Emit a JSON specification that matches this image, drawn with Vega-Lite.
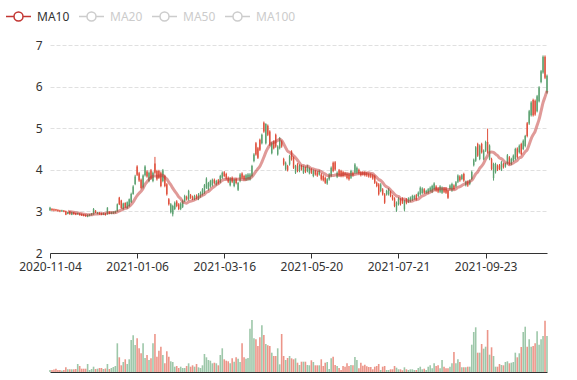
{
"$schema": "https://vega.github.io/schema/vega-lite/v6.json",
"padding": {"left": 5, "top": 3, "right": 30, "bottom": 8},
"config": {"view": {"stroke": null}, "font": "Noto Sans", "concat": {"spacing": 28}},
"data": {"values": [
{"d":"2020-11-04","o":3.03,"c":3.09,"h":3.11,"l":3.01,"v":200000},
{"d":"2020-11-05","o":3.06,"c":3.03,"h":3.08,"l":3.01,"v":200000},
{"d":"2020-11-06","o":3.05,"c":3.02,"h":3.07,"l":3.00,"v":250000},
{"d":"2020-11-09","o":3.05,"c":3.02,"h":3.06,"l":3.00,"v":330000},
{"d":"2020-11-10","o":3.04,"c":3.01,"h":3.05,"l":2.99,"v":200000},
{"d":"2020-11-11","o":3.03,"c":3.00,"h":3.04,"l":2.98,"v":200000},
{"d":"2020-11-12","o":3.00,"c":3.03,"h":3.04,"l":2.99,"v":150000},
{"d":"2020-11-13","o":3.02,"c":2.99,"h":3.03,"l":2.98,"v":200000},
{"d":"2020-11-16","o":3.01,"c":2.92,"h":3.02,"l":2.91,"v":470000},
{"d":"2020-11-17","o":2.94,"c":2.98,"h":2.99,"l":2.93,"v":270000},
{"d":"2020-11-18","o":3.00,"c":2.93,"h":3.01,"l":2.92,"v":270000},
{"d":"2020-11-19","o":2.92,"c":2.98,"h":2.99,"l":2.91,"v":270000},
{"d":"2020-11-20","o":2.98,"c":2.93,"h":2.99,"l":2.92,"v":270000},
{"d":"2020-11-23","o":2.96,"c":2.92,"h":2.97,"l":2.91,"v":300000},
{"d":"2020-11-24","o":2.93,"c":2.96,"h":2.97,"l":2.92,"v":800000},
{"d":"2020-11-25","o":2.95,"c":2.91,"h":2.96,"l":2.90,"v":600000},
{"d":"2020-11-26","o":2.94,"c":2.90,"h":2.95,"l":2.89,"v":330000},
{"d":"2020-11-27","o":2.93,"c":2.89,"h":2.94,"l":2.88,"v":330000},
{"d":"2020-11-30","o":2.92,"c":2.88,"h":2.93,"l":2.87,"v":330000},
{"d":"2020-12-01","o":2.87,"c":2.92,"h":2.93,"l":2.86,"v":800000},
{"d":"2020-12-02","o":2.89,"c":2.93,"h":2.94,"l":2.88,"v":200000},
{"d":"2020-12-03","o":2.91,"c":2.95,"h":2.96,"l":2.90,"v":300000},
{"d":"2020-12-04","o":2.93,"c":3.06,"h":3.08,"l":2.92,"v":530000},
{"d":"2020-12-07","o":3.02,"c":2.97,"h":3.03,"l":2.96,"v":300000},
{"d":"2020-12-08","o":2.94,"c":2.98,"h":2.99,"l":2.93,"v":330000},
{"d":"2020-12-09","o":2.97,"c":2.93,"h":2.98,"l":2.92,"v":400000},
{"d":"2020-12-10","o":2.96,"c":2.92,"h":2.97,"l":2.91,"v":400000},
{"d":"2020-12-11","o":2.92,"c":2.96,"h":2.97,"l":2.91,"v":300000},
{"d":"2020-12-14","o":2.95,"c":2.91,"h":2.96,"l":2.90,"v":350000},
{"d":"2020-12-15","o":2.93,"c":3.09,"h":3.10,"l":2.92,"v":800000},
{"d":"2020-12-16","o":2.99,"c":2.94,"h":3.00,"l":2.93,"v":300000},
{"d":"2020-12-17","o":2.94,"c":2.98,"h":2.99,"l":2.93,"v":400000},
{"d":"2020-12-18","o":2.95,"c":2.99,"h":3.00,"l":2.94,"v":500000},
{"d":"2020-12-21","o":2.96,"c":3.01,"h":3.02,"l":2.95,"v":600000},
{"d":"2020-12-22","o":3.00,"c":3.17,"h":3.19,"l":2.99,"v":2870000},
{"d":"2020-12-23","o":3.33,"c":3.17,"h":3.35,"l":3.15,"v":1470000},
{"d":"2020-12-24","o":3.26,"c":3.08,"h":3.28,"l":3.06,"v":670000},
{"d":"2020-12-25","o":3.06,"c":3.19,"h":3.21,"l":3.04,"v":1000000},
{"d":"2020-12-28","o":3.20,"c":3.10,"h":3.22,"l":3.08,"v":1270000},
{"d":"2020-12-29","o":3.08,"c":3.22,"h":3.24,"l":3.06,"v":800000},
{"d":"2020-12-30","o":3.13,"c":3.29,"h":3.31,"l":3.11,"v":1270000},
{"d":"2020-12-31","o":3.22,"c":3.42,"h":3.45,"l":3.20,"v":3200000},
{"d":"2021-01-04","o":3.42,"c":3.60,"h":3.63,"l":3.40,"v":3670000},
{"d":"2021-01-05","o":3.66,"c":3.84,"h":3.88,"l":3.63,"v":2700000},
{"d":"2021-01-06","o":4.08,"c":3.88,"h":4.11,"l":3.85,"v":3370000},
{"d":"2021-01-07","o":3.92,"c":3.74,"h":3.95,"l":3.71,"v":2370000},
{"d":"2021-01-08","o":3.76,"c":3.56,"h":3.79,"l":3.53,"v":1870000},
{"d":"2021-01-11","o":3.58,"c":3.86,"h":3.89,"l":3.55,"v":2870000},
{"d":"2021-01-12","o":3.87,"c":4.08,"h":4.11,"l":3.84,"v":1400000},
{"d":"2021-01-13","o":3.96,"c":3.84,"h":3.99,"l":3.81,"v":1700000},
{"d":"2021-01-14","o":3.73,"c":3.93,"h":3.96,"l":3.70,"v":1200000},
{"d":"2021-01-15","o":3.99,"c":3.79,"h":4.02,"l":3.76,"v":1370000},
{"d":"2021-01-18","o":3.73,"c":3.93,"h":3.96,"l":3.70,"v":2870000},
{"d":"2021-01-19","o":4.15,"c":3.93,"h":4.31,"l":3.90,"v":3800000},
{"d":"2021-01-20","o":3.97,"c":3.77,"h":4.00,"l":3.74,"v":1530000},
{"d":"2021-01-21","o":3.97,"c":3.81,"h":4.00,"l":3.78,"v":2130000},
{"d":"2021-01-22","o":3.93,"c":3.61,"h":3.96,"l":3.58,"v":2530000},
{"d":"2021-01-25","o":3.73,"c":3.99,"h":4.02,"l":3.70,"v":1700000},
{"d":"2021-01-26","o":3.85,"c":3.61,"h":3.88,"l":3.58,"v":870000},
{"d":"2021-01-27","o":3.65,"c":3.41,"h":3.68,"l":3.38,"v":2070000},
{"d":"2021-01-28","o":3.29,"c":3.17,"h":3.32,"l":3.14,"v":1530000},
{"d":"2021-01-29","o":2.98,"c":3.17,"h":3.20,"l":2.95,"v":1070000},
{"d":"2021-02-01","o":2.93,"c":3.13,"h":3.16,"l":2.88,"v":1000000},
{"d":"2021-02-02","o":3.06,"c":3.21,"h":3.24,"l":3.03,"v":530000},
{"d":"2021-02-03","o":3.24,"c":3.13,"h":3.27,"l":3.10,"v":600000},
{"d":"2021-02-04","o":3.17,"c":3.06,"h":3.20,"l":3.03,"v":400000},
{"d":"2021-02-05","o":3.06,"c":3.19,"h":3.22,"l":3.03,"v":530000},
{"d":"2021-02-08","o":3.11,"c":3.25,"h":3.28,"l":3.08,"v":400000},
{"d":"2021-02-09","o":3.25,"c":3.37,"h":3.40,"l":3.22,"v":400000},
{"d":"2021-02-10","o":3.35,"c":3.29,"h":3.38,"l":3.26,"v":600000},
{"d":"2021-02-18","o":3.29,"c":3.49,"h":3.52,"l":3.26,"v":870000},
{"d":"2021-02-19","o":3.39,"c":3.33,"h":3.42,"l":3.30,"v":530000},
{"d":"2021-02-22","o":3.35,"c":3.30,"h":3.38,"l":3.27,"v":670000},
{"d":"2021-02-23","o":3.30,"c":3.37,"h":3.40,"l":3.27,"v":530000},
{"d":"2021-02-24","o":3.38,"c":3.32,"h":3.41,"l":3.29,"v":800000},
{"d":"2021-02-25","o":3.30,"c":3.41,"h":3.44,"l":3.27,"v":470000},
{"d":"2021-02-26","o":3.36,"c":3.45,"h":3.48,"l":3.33,"v":400000},
{"d":"2021-03-01","o":3.41,"c":3.53,"h":3.56,"l":3.38,"v":670000},
{"d":"2021-03-02","o":3.45,"c":3.63,"h":3.66,"l":3.42,"v":1800000},
{"d":"2021-03-03","o":3.57,"c":3.79,"h":3.82,"l":3.54,"v":1470000},
{"d":"2021-03-04","o":3.53,"c":3.68,"h":3.71,"l":3.50,"v":1200000},
{"d":"2021-03-05","o":3.60,"c":3.73,"h":3.76,"l":3.57,"v":1130000},
{"d":"2021-03-08","o":3.63,"c":3.76,"h":3.79,"l":3.60,"v":870000},
{"d":"2021-03-09","o":3.76,"c":3.68,"h":3.79,"l":3.65,"v":930000},
{"d":"2021-03-10","o":3.65,"c":3.73,"h":3.76,"l":3.62,"v":870000},
{"d":"2021-03-11","o":3.75,"c":3.68,"h":3.78,"l":3.65,"v":670000},
{"d":"2021-03-12","o":3.71,"c":3.85,"h":3.88,"l":3.68,"v":1700000},
{"d":"2021-03-15","o":3.81,"c":3.93,"h":3.96,"l":3.78,"v":2370000},
{"d":"2021-03-16","o":3.94,"c":3.85,"h":3.97,"l":3.82,"v":1270000},
{"d":"2021-03-17","o":3.90,"c":3.79,"h":3.93,"l":3.76,"v":1130000},
{"d":"2021-03-18","o":3.81,"c":3.71,"h":3.84,"l":3.68,"v":1070000},
{"d":"2021-03-19","o":3.63,"c":3.79,"h":3.82,"l":3.60,"v":870000},
{"d":"2021-03-22","o":3.81,"c":3.71,"h":3.84,"l":3.68,"v":1370000},
{"d":"2021-03-23","o":3.61,"c":3.76,"h":3.79,"l":3.58,"v":1030000},
{"d":"2021-03-24","o":3.78,"c":3.68,"h":3.81,"l":3.65,"v":1470000},
{"d":"2021-03-25","o":3.52,"c":3.68,"h":3.71,"l":3.49,"v":1330000},
{"d":"2021-03-26","o":3.73,"c":3.89,"h":3.92,"l":3.70,"v":1000000},
{"d":"2021-03-29","o":3.91,"c":3.81,"h":3.94,"l":3.78,"v":2870000},
{"d":"2021-03-30","o":3.85,"c":3.77,"h":3.88,"l":3.74,"v":1470000},
{"d":"2021-03-31","o":3.76,"c":3.87,"h":3.90,"l":3.73,"v":1330000},
{"d":"2021-04-01","o":3.77,"c":3.89,"h":3.92,"l":3.74,"v":1400000},
{"d":"2021-04-02","o":3.77,"c":3.89,"h":3.92,"l":3.74,"v":4330000},
{"d":"2021-04-05","o":3.85,"c":4.09,"h":4.12,"l":3.82,"v":5200000},
{"d":"2021-04-06","o":4.21,"c":4.37,"h":4.40,"l":4.18,"v":3370000},
{"d":"2021-04-07","o":4.64,"c":4.37,"h":4.67,"l":4.34,"v":3270000},
{"d":"2021-04-08","o":4.52,"c":4.29,"h":4.55,"l":4.26,"v":2600000},
{"d":"2021-04-09","o":4.72,"c":4.48,"h":4.75,"l":4.45,"v":3470000},
{"d":"2021-04-12","o":4.64,"c":4.84,"h":4.87,"l":4.61,"v":4670000},
{"d":"2021-04-13","o":5.13,"c":4.92,"h":5.16,"l":4.89,"v":3700000},
{"d":"2021-04-14","o":4.64,"c":5.10,"h":5.12,"l":4.61,"v":2800000},
{"d":"2021-04-15","o":5.06,"c":4.84,"h":5.09,"l":4.81,"v":2670000},
{"d":"2021-04-16","o":4.92,"c":4.60,"h":4.95,"l":4.57,"v":2600000},
{"d":"2021-04-19","o":4.40,"c":4.64,"h":4.67,"l":4.37,"v":1930000},
{"d":"2021-04-20","o":4.68,"c":4.52,"h":4.71,"l":4.49,"v":1600000},
{"d":"2021-04-21","o":4.84,"c":4.56,"h":4.87,"l":4.53,"v":1600000},
{"d":"2021-04-22","o":4.37,"c":4.56,"h":4.59,"l":4.34,"v":2370000},
{"d":"2021-04-23","o":4.52,"c":4.76,"h":4.79,"l":4.49,"v":770000},
{"d":"2021-04-26","o":4.68,"c":4.56,"h":4.71,"l":4.53,"v":3800000},
{"d":"2021-04-27","o":4.26,"c":4.13,"h":4.29,"l":4.10,"v":1600000},
{"d":"2021-04-28","o":4.01,"c":4.17,"h":4.20,"l":3.98,"v":1200000},
{"d":"2021-04-29","o":4.09,"c":3.99,"h":4.12,"l":3.96,"v":1400000},
{"d":"2021-04-30","o":4.13,"c":4.33,"h":4.36,"l":4.10,"v":1600000},
{"d":"2021-05-06","o":4.44,"c":4.25,"h":4.47,"l":4.22,"v":1370000},
{"d":"2021-05-07","o":4.29,"c":4.05,"h":4.32,"l":4.02,"v":1270000},
{"d":"2021-05-10","o":3.93,"c":4.09,"h":4.12,"l":3.90,"v":1370000},
{"d":"2021-05-11","o":4.13,"c":3.97,"h":4.16,"l":3.94,"v":930000},
{"d":"2021-05-12","o":3.97,"c":4.10,"h":4.13,"l":3.94,"v":700000},
{"d":"2021-05-13","o":4.09,"c":4.01,"h":4.12,"l":3.98,"v":1030000},
{"d":"2021-05-14","o":3.93,"c":4.07,"h":4.10,"l":3.90,"v":1030000},
{"d":"2021-05-17","o":4.05,"c":3.95,"h":4.08,"l":3.92,"v":1030000},
{"d":"2021-05-18","o":3.97,"c":4.09,"h":4.12,"l":3.94,"v":700000},
{"d":"2021-05-19","o":3.92,"c":4.03,"h":4.06,"l":3.89,"v":670000},
{"d":"2021-05-20","o":4.01,"c":3.93,"h":4.04,"l":3.90,"v":1170000},
{"d":"2021-05-21","o":3.85,"c":3.98,"h":4.01,"l":3.82,"v":1000000},
{"d":"2021-05-24","o":3.97,"c":3.89,"h":4.00,"l":3.86,"v":670000},
{"d":"2021-05-25","o":3.94,"c":3.86,"h":3.97,"l":3.83,"v":670000},
{"d":"2021-05-26","o":3.89,"c":3.97,"h":4.00,"l":3.86,"v":670000},
{"d":"2021-05-27","o":3.89,"c":3.77,"h":3.92,"l":3.74,"v":1270000},
{"d":"2021-05-28","o":3.85,"c":3.75,"h":3.88,"l":3.72,"v":600000},
{"d":"2021-05-31","o":3.81,"c":3.69,"h":3.84,"l":3.66,"v":930000},
{"d":"2021-06-01","o":3.67,"c":3.77,"h":3.80,"l":3.64,"v":1000000},
{"d":"2021-06-02","o":3.77,"c":3.89,"h":3.92,"l":3.74,"v":300000},
{"d":"2021-06-03","o":3.85,"c":4.05,"h":4.08,"l":3.82,"v":1370000},
{"d":"2021-06-04","o":4.17,"c":3.97,"h":4.20,"l":3.94,"v":1530000},
{"d":"2021-06-07","o":4.18,"c":4.01,"h":4.21,"l":3.98,"v":700000},
{"d":"2021-06-08","o":3.83,"c":3.93,"h":3.96,"l":3.80,"v":600000},
{"d":"2021-06-09","o":3.99,"c":3.87,"h":4.02,"l":3.84,"v":400000},
{"d":"2021-06-10","o":3.97,"c":3.85,"h":4.00,"l":3.82,"v":200000},
{"d":"2021-06-11","o":3.95,"c":3.85,"h":3.98,"l":3.82,"v":600000},
{"d":"2021-06-14","o":3.92,"c":3.86,"h":3.95,"l":3.83,"v":530000},
{"d":"2021-06-15","o":3.90,"c":3.80,"h":3.93,"l":3.77,"v":870000},
{"d":"2021-06-16","o":3.89,"c":3.77,"h":3.92,"l":3.74,"v":600000},
{"d":"2021-06-17","o":3.81,"c":3.97,"h":4.00,"l":3.78,"v":700000},
{"d":"2021-06-18","o":3.93,"c":3.87,"h":3.96,"l":3.84,"v":670000},
{"d":"2021-06-21","o":3.93,"c":4.13,"h":4.16,"l":3.90,"v":1500000},
{"d":"2021-06-22","o":3.93,"c":4.05,"h":4.08,"l":3.90,"v":1200000},
{"d":"2021-06-23","o":4.00,"c":3.92,"h":4.03,"l":3.89,"v":370000},
{"d":"2021-06-24","o":3.94,"c":3.87,"h":3.97,"l":3.84,"v":930000},
{"d":"2021-06-25","o":3.94,"c":3.89,"h":3.97,"l":3.86,"v":630000},
{"d":"2021-06-28","o":3.94,"c":3.87,"h":3.97,"l":3.84,"v":730000},
{"d":"2021-06-29","o":3.92,"c":3.86,"h":3.95,"l":3.83,"v":570000},
{"d":"2021-06-30","o":3.90,"c":3.84,"h":3.93,"l":3.81,"v":500000},
{"d":"2021-07-01","o":3.89,"c":3.83,"h":3.92,"l":3.80,"v":500000},
{"d":"2021-07-02","o":3.87,"c":3.79,"h":3.90,"l":3.76,"v":270000},
{"d":"2021-07-05","o":3.85,"c":3.69,"h":3.88,"l":3.66,"v":530000},
{"d":"2021-07-06","o":3.69,"c":3.61,"h":3.72,"l":3.58,"v":600000},
{"d":"2021-07-07","o":3.65,"c":3.41,"h":3.68,"l":3.38,"v":800000},
{"d":"2021-07-08","o":3.49,"c":3.65,"h":3.68,"l":3.46,"v":200000},
{"d":"2021-07-09","o":3.53,"c":3.41,"h":3.56,"l":3.38,"v":530000},
{"d":"2021-07-12","o":3.41,"c":3.21,"h":3.44,"l":3.18,"v":600000},
{"d":"2021-07-13","o":3.41,"c":3.49,"h":3.52,"l":3.38,"v":200000},
{"d":"2021-07-14","o":3.41,"c":3.53,"h":3.56,"l":3.38,"v":200000},
{"d":"2021-07-15","o":3.47,"c":3.37,"h":3.50,"l":3.34,"v":270000},
{"d":"2021-07-16","o":3.37,"c":3.29,"h":3.40,"l":3.26,"v":270000},
{"d":"2021-07-19","o":3.31,"c":3.13,"h":3.34,"l":3.10,"v":600000},
{"d":"2021-07-20","o":3.02,"c":3.21,"h":3.24,"l":2.99,"v":430000},
{"d":"2021-07-21","o":3.17,"c":3.31,"h":3.34,"l":3.14,"v":270000},
{"d":"2021-07-22","o":3.29,"c":3.17,"h":3.32,"l":3.14,"v":270000},
{"d":"2021-07-23","o":3.31,"c":3.21,"h":3.34,"l":3.18,"v":170000},
{"d":"2021-07-26","o":3.05,"c":3.25,"h":3.28,"l":3.00,"v":470000},
{"d":"2021-07-27","o":3.29,"c":3.20,"h":3.32,"l":3.17,"v":270000},
{"d":"2021-07-28","o":3.23,"c":3.31,"h":3.34,"l":3.20,"v":200000},
{"d":"2021-07-29","o":3.25,"c":3.33,"h":3.36,"l":3.22,"v":270000},
{"d":"2021-07-30","o":3.28,"c":3.37,"h":3.40,"l":3.25,"v":270000},
{"d":"2021-08-02","o":3.31,"c":3.37,"h":3.40,"l":3.28,"v":200000},
{"d":"2021-08-03","o":3.39,"c":3.29,"h":3.42,"l":3.26,"v":200000},
{"d":"2021-08-04","o":3.37,"c":3.45,"h":3.48,"l":3.34,"v":400000},
{"d":"2021-08-05","o":3.41,"c":3.57,"h":3.60,"l":3.38,"v":530000},
{"d":"2021-08-06","o":3.44,"c":3.55,"h":3.58,"l":3.41,"v":270000},
{"d":"2021-08-09","o":3.53,"c":3.45,"h":3.56,"l":3.42,"v":330000},
{"d":"2021-08-10","o":3.45,"c":3.49,"h":3.52,"l":3.42,"v":200000},
{"d":"2021-08-11","o":3.45,"c":3.53,"h":3.56,"l":3.42,"v":530000},
{"d":"2021-08-12","o":3.49,"c":3.57,"h":3.60,"l":3.46,"v":670000},
{"d":"2021-08-13","o":3.47,"c":3.61,"h":3.64,"l":3.44,"v":370000},
{"d":"2021-08-16","o":3.53,"c":3.67,"h":3.70,"l":3.50,"v":870000},
{"d":"2021-08-17","o":3.60,"c":3.50,"h":3.63,"l":3.47,"v":600000},
{"d":"2021-08-18","o":3.55,"c":3.47,"h":3.58,"l":3.44,"v":670000},
{"d":"2021-08-19","o":3.47,"c":3.60,"h":3.63,"l":3.44,"v":370000},
{"d":"2021-08-20","o":3.45,"c":3.57,"h":3.60,"l":3.42,"v":1200000},
{"d":"2021-08-23","o":3.55,"c":3.47,"h":3.58,"l":3.44,"v":530000},
{"d":"2021-08-24","o":3.55,"c":3.45,"h":3.58,"l":3.42,"v":370000},
{"d":"2021-08-25","o":3.49,"c":3.33,"h":3.52,"l":3.30,"v":370000},
{"d":"2021-08-26","o":3.54,"c":3.62,"h":3.65,"l":3.51,"v":530000},
{"d":"2021-08-27","o":3.50,"c":3.66,"h":3.69,"l":3.47,"v":870000},
{"d":"2021-08-30","o":3.62,"c":3.54,"h":3.65,"l":3.51,"v":2000000},
{"d":"2021-08-31","o":3.60,"c":3.70,"h":3.73,"l":3.57,"v":870000},
{"d":"2021-09-01","o":3.71,"c":3.86,"h":3.89,"l":3.68,"v":1270000},
{"d":"2021-09-02","o":3.84,"c":3.74,"h":3.87,"l":3.71,"v":1000000},
{"d":"2021-09-03","o":3.78,"c":3.87,"h":3.90,"l":3.75,"v":470000},
{"d":"2021-09-06","o":3.90,"c":3.74,"h":3.93,"l":3.71,"v":470000},
{"d":"2021-09-07","o":3.63,"c":3.71,"h":3.74,"l":3.60,"v":470000},
{"d":"2021-09-08","o":3.71,"c":3.62,"h":3.74,"l":3.59,"v":530000},
{"d":"2021-09-09","o":3.66,"c":3.74,"h":3.77,"l":3.63,"v":530000},
{"d":"2021-09-10","o":3.78,"c":3.95,"h":3.98,"l":3.75,"v":2730000},
{"d":"2021-09-13","o":4.11,"c":4.24,"h":4.27,"l":4.08,"v":4000000},
{"d":"2021-09-14","o":4.22,"c":4.54,"h":4.57,"l":4.19,"v":4470000},
{"d":"2021-09-15","o":4.62,"c":4.34,"h":4.65,"l":4.31,"v":1930000},
{"d":"2021-09-16","o":4.26,"c":4.58,"h":4.61,"l":4.23,"v":1930000},
{"d":"2021-09-17","o":4.62,"c":4.42,"h":4.65,"l":4.39,"v":2800000},
{"d":"2021-09-22","o":4.26,"c":4.46,"h":4.49,"l":4.23,"v":2330000},
{"d":"2021-09-23","o":4.46,"c":4.67,"h":4.70,"l":4.43,"v":2530000},
{"d":"2021-09-24","o":4.67,"c":4.42,"h":4.99,"l":4.39,"v":4200000},
{"d":"2021-09-27","o":4.26,"c":4.58,"h":4.61,"l":4.23,"v":1730000},
{"d":"2021-09-28","o":4.26,"c":4.02,"h":4.29,"l":3.99,"v":2470000},
{"d":"2021-09-29","o":3.80,"c":4.14,"h":4.17,"l":3.74,"v":1600000},
{"d":"2021-09-30","o":3.94,"c":4.14,"h":4.17,"l":3.91,"v":530000},
{"d":"2021-10-08","o":4.10,"c":4.00,"h":4.13,"l":3.97,"v":530000},
{"d":"2021-10-11","o":4.11,"c":4.02,"h":4.14,"l":3.99,"v":800000},
{"d":"2021-10-12","o":4.00,"c":4.18,"h":4.21,"l":3.97,"v":700000},
{"d":"2021-10-13","o":4.14,"c":4.06,"h":4.17,"l":4.03,"v":670000},
{"d":"2021-10-14","o":4.08,"c":4.14,"h":4.17,"l":4.05,"v":1000000},
{"d":"2021-10-15","o":4.16,"c":4.35,"h":4.38,"l":4.13,"v":1070000},
{"d":"2021-10-18","o":4.30,"c":4.14,"h":4.33,"l":4.11,"v":870000},
{"d":"2021-10-19","o":4.14,"c":4.26,"h":4.29,"l":4.11,"v":930000},
{"d":"2021-10-20","o":4.22,"c":4.34,"h":4.37,"l":4.19,"v":1000000},
{"d":"2021-10-21","o":4.26,"c":4.50,"h":4.53,"l":4.23,"v":1930000},
{"d":"2021-10-22","o":4.51,"c":4.30,"h":4.54,"l":4.27,"v":1470000},
{"d":"2021-10-25","o":4.42,"c":4.58,"h":4.61,"l":4.39,"v":1870000},
{"d":"2021-10-26","o":4.62,"c":4.38,"h":4.65,"l":4.35,"v":2500000},
{"d":"2021-10-27","o":4.50,"c":4.70,"h":4.73,"l":4.47,"v":4000000},
{"d":"2021-10-28","o":4.57,"c":4.81,"h":4.84,"l":4.54,"v":4530000},
{"d":"2021-10-29","o":5.12,"c":4.81,"h":5.15,"l":4.78,"v":2530000},
{"d":"2021-11-01","o":5.11,"c":5.41,"h":5.44,"l":5.08,"v":3270000},
{"d":"2021-11-02","o":5.31,"c":5.62,"h":5.65,"l":5.28,"v":2530000},
{"d":"2021-11-03","o":5.68,"c":5.31,"h":5.71,"l":5.28,"v":2600000},
{"d":"2021-11-04","o":5.66,"c":5.33,"h":5.69,"l":5.30,"v":2870000},
{"d":"2021-11-05","o":5.41,"c":5.77,"h":5.80,"l":5.38,"v":4070000},
{"d":"2021-11-08","o":5.65,"c":5.98,"h":6.01,"l":5.62,"v":2730000},
{"d":"2021-11-09","o":6.11,"c":6.37,"h":6.40,"l":6.08,"v":3270000},
{"d":"2021-11-10","o":6.34,"c":6.72,"h":6.75,"l":6.31,"v":3600000},
{"d":"2021-11-11","o":6.72,"c":6.21,"h":6.75,"l":6.18,"v":5130000},
{"d":"2021-11-12","o":5.86,"c":6.26,"h":6.29,"l":5.83,"v":3600000}
]},
"vconcat": [
{
"width": 497, "height": 208,
"encoding": {"x": {"field": "d", "type": "ordinal", "scale": {"type": "point", "padding": 0},
  "axis": {"title": null, "values": ["2020-11-04","2021-01-06","2021-03-16","2021-05-20","2021-07-21","2021-09-23"], "labelAngle": 0, "domainColor": "#333333", "tickColor": "#333333", "tickSize": 5, "labelPadding": 3, "labelColor": "#333333", "labelFontSize": 12, "grid": false, "labelOverlap": false}}},
"layer": [
 {"mark": {"type": "rule", "strokeWidth": 1},
  "encoding": {
   "y": {"field": "l", "type": "quantitative", "scale": {"domain": [2, 7], "nice": false, "zero": false},
     "axis": {"title": null, "values": [2,3,4,5,6,7], "grid": true, "gridColor": "#e0e0e0", "gridDash": [4, 2], "domain": false, "ticks": false, "tickSize": 0, "labelPadding": 8, "labelColor": "#333333", "labelFontSize": 12}},
   "y2": {"field": "h"},
   "color": {"condition": {"test": "datum.c >= datum.o", "value": "#5ba170"}, "value": "#df4f3b"}}},
 {"mark": {"type": "bar", "width": 1.4},
  "encoding": {
   "y": {"field": "o", "type": "quantitative"},
   "y2": {"field": "c"},
   "color": {"condition": {"test": "datum.c >= datum.o", "value": "#5ba170"}, "value": "#df4f3b"}}},
 {"transform": [
   {"window": [{"op": "mean", "field": "c", "as": "ma10"}, {"op": "count", "as": "n"}], "frame": [-9, 0], "sort": [{"field": "d"}]},
   {"filter": "datum.n >= 10"}],
  "mark": {"type": "line", "strokeWidth": 3, "opacity": 0.5, "interpolate": "monotone"},
  "encoding": {
   "y": {"field": "ma10", "type": "quantitative"},
   "color": {"datum": "MA10", "type": "nominal",
     "scale": {"domain": ["MA10", "MA20", "MA50", "MA100"], "range": ["#c23531", "#cccccc", "#cccccc", "#cccccc"]},
     "legend": {"orient": "none", "legendX": -45, "legendY": -42, "direction": "horizontal", "title": null,
       "symbolType": "M-1,0L-0.36,0M0.36,0L1,0M0.36,0A0.36,0.36,0,1,1,-0.36,0A0.36,0.36,0,1,1,0.36,0",
       "symbolSize": 625, "symbolStrokeWidth": 1.5, "symbolFillColor": "#ffffff", "symbolOpacity": 1,
       "labelFontSize": 12, "labelOffset": 5, "columnPadding": 6,
       "encode": {"labels": {"update": {"fill": {"signal": "datum.value === 'MA10' ? '#333333' : '#cccccc'"}}},
                  "symbols": {"update": {"fill": {"value": "#ffffff"}, "opacity": {"value": 1}}}}}}}}
]
},
{
"width": 497, "height": 72,
"mark": {"type": "bar", "width": 1.6, "opacity": 0.6},
"encoding": {
 "x": {"field": "d", "type": "ordinal", "scale": {"type": "point", "padding": 0},
   "axis": {"title": null, "labels": false, "ticks": false, "domainColor": "#333333", "grid": false}},
 "y": {"field": "v", "type": "quantitative", "scale": {"domain": [0, 7200000], "nice": false}, "axis": null},
 "color": {"condition": {"test": "datum.c >= datum.o", "value": "#5ba170"}, "value": "#df4f3b"}}
}
]
}
